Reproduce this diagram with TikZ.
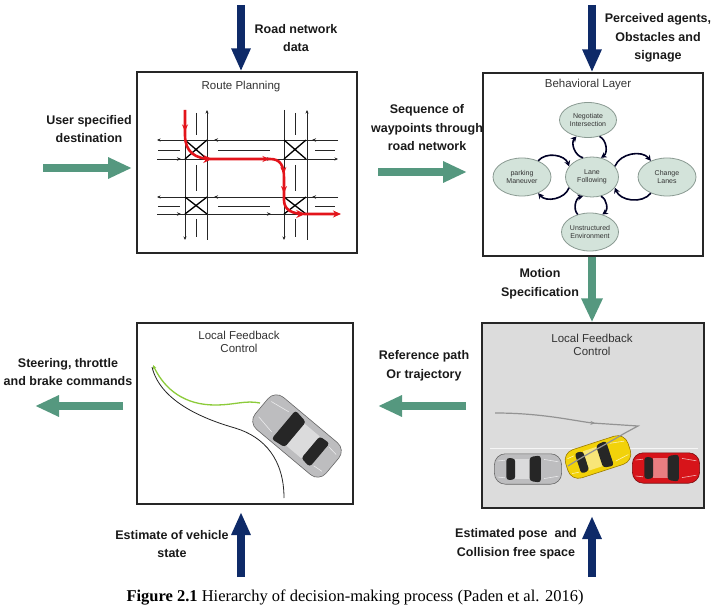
\documentclass[tikz,border=0pt]{standalone}
\usepackage{fontspec}
\setmainfont{Liberation Serif}
\setsansfont{Liberation Sans}
\usepackage{tikz}
\usetikzlibrary{arrows.meta,shapes.geometric,decorations.markings}

\definecolor{navyarrow}{HTML}{0E2A68}
\definecolor{greenarrow}{HTML}{55987F}
\definecolor{statefill}{HTML}{D3E3DA}
\definecolor{stateedge}{HTML}{8A9A92}
\definecolor{panelgray}{HTML}{DCDCDC}
\definecolor{routered}{HTML}{E3141B}
\definecolor{pathgreen}{HTML}{8CCB3A}
\definecolor{silvercar}{HTML}{BDBDBF}
\definecolor{silveredge}{HTML}{666666}
\definecolor{yellowcar}{HTML}{F2D20A}
\definecolor{yellowedge}{HTML}{9A7A00}
\definecolor{redcar}{HTML}{D7141A}
\definecolor{rededge}{HTML}{7A0A0D}

\tikzset{
  panel/.style={draw=black!85, line width=1.3pt, fill=white, inner sep=0pt},
  paneltitle/.style={font=\sffamily\fontsize{11.5}{13.5}\selectfont, text=black!80, align=center},
  lbl/.style={font=\sffamily\bfseries\fontsize{12.5}{18.5}\selectfont, text=black!90, align=center},
  navyblock/.style={draw=navyarrow, line width=8pt, -{Triangle[length=23pt,width=18pt]}},
  greenblock/.style={draw=greenarrow, line width=8.5pt, -{Triangle[length=24pt,width=20pt]}},
  state/.style={ellipse, draw=stateedge, line width=.8pt, fill=statefill, inner sep=0pt,
    font=\sffamily\fontsize{7}{8.5}\selectfont, text=black!80, align=center},
  cyc/.style={draw=black!85!blue, line width=1.6pt, -{Stealth[length=5.5pt,width=6pt]},
    bend left=60},
  road/.style={draw=black!85, line width=.7pt},
  pics/topcar/.style 2 args={code={
    \fill[#1, draw=#2, line width=.6pt, rounded corners=11pt] (-42,-19) rectangle (42,19);
    \fill[#1!55!white] (-16,-13) rectangle (2,13);
    \fill[black!85, rounded corners=3pt] (2,-15) -- (16,-17) -- (16,17) -- (2,15) -- cycle;
    \fill[black!85, rounded corners=3pt] (-27,-14) -- (-16,-13) -- (-16,13) -- (-27,14) -- cycle;
    \draw[white!70!#1, line width=.6pt] (20,-12) -- (38,-9) (20,12) -- (38,9) (-38,-10) -- (-29,-11) (-38,10) -- (-29,11);
  }}
}

\begin{document}
\begin{tikzpicture}[x=1pt, y=-1pt]
\useasboundingbox (0,0) rectangle (720,612);

% panels
\node[panel, minimum width=220pt, minimum height=181pt] (route) at (247,162.5) {};
\node[panel, minimum width=220pt, minimum height=183pt] (behav) at (593,164.5) {};
\node[panel, minimum width=216pt, minimum height=181pt] (track) at (245,413.5) {};
\node[panel, fill=panelgray, minimum width=222pt, minimum height=185pt] (motion) at (593,415.5) {};

\node[paneltitle] (routetitle) at (241,87) {Route Planning};
\node[paneltitle] (behavtitle) at (588,85) {Behavioral Layer};
\node[paneltitle] (tracktitle) at (239,342) {Local Feedback\\Control};
\node[paneltitle] (motiontitle) at (592,345) {Local Feedback\\Control};

% inputs and outputs
\coordinate (roadin) at (241,5);
\coordinate (percin) at (592,5);
\coordinate (userin) at (43,168);
\coordinate (stateest) at (241,577);
\coordinate (poseest) at (592,577);
\coordinate (cmdout) at (35,406);

\draw[navyblock] (roadin) -- (roadin |- route.north);
\draw[navyblock] (percin) -- (percin |- behav.north);
\draw[greenblock] (userin) -- (132,168);
\draw[greenblock] (378,172) -- (467,172);
\draw[greenblock] (behav.south -| percin) -- (percin |- motion.north);
\draw[greenblock] (466,406) -- (378,406);
\draw[greenblock] (123,406) -- (cmdout);
\draw[navyblock] (stateest) -- (241,512);
\draw[navyblock] (poseest) -- (592,516);

\node[lbl] (roadlbl) at (296,38) {Road network\\data};
\node[lbl] (perclbl) at (658,38) {Perceived agents,\\Obstacles and\\signage};
\node[lbl] (userlbl) at (89,129) {User specified\\destination};
\node[lbl] (waylbl) at (427,128) {Sequence of\\waypoints through\\road network};
\node[lbl] (speclbl) at (540,284) {Motion\\Specification};
\node[lbl] (reflbl) at (424,366) {Reference path\\Or trajectory};
\node[lbl] (cmdlbl) at (68,372) {Steering, throttle\\and brake commands};
\node[lbl] (statelbl) at (172,544) {Estimate of vehicle\\state};
\node[lbl] (poselbl) at (516,544) {Estimated pose\ \ and\\Collision free space};

\node[font=\fontsize{16.5}{19}\selectfont] (caption) at (355,598)
  {\textbf{Figure 2.1} Hierarchy of decision-making process (Paden et al. 2016)};

% road grid
\foreach \xa/\xb/\xc in {185/196/207, 284/295/307} {
  \draw[road, -{Stealth[length=3.5pt,width=3pt]}] (\xa,110) -- (\xa,240);
  \draw[road, -{Stealth[length=3.5pt,width=3pt]}] (\xc,240) -- (\xc,110);
  \draw[road] (\xb,113) -- (\xb,135) (\xb,165) -- (\xb,191) (\xb,219) -- (\xb,237);
}
\foreach \ya/\yb/\yc in {140/150/159, 197/206/214} {
  \draw[road, -{Stealth[length=3.5pt,width=3pt]}] (338,\ya) -- (157,\ya);
  \draw[road, -{Stealth[length=3.5pt,width=3pt]}] (157,\yc) -- (338,\yc);
  \draw[road, -{Stealth[length=4pt,width=3.5pt]}] (219,\ya) -- (214,\ya);
  \draw[road, -{Stealth[length=4pt,width=3.5pt]}] (317,\ya) -- (312,\ya);
  \draw[road, -{Stealth[length=4pt,width=3.5pt]}] (176,\yc) -- (181,\yc);
  \draw[road, -{Stealth[length=4pt,width=3.5pt]}] (266,\yc) -- (271,\yc);
  \draw[road] (158,\yb) -- (180,\yb) (218,\yb) -- (270,\yb) (315,\yb) -- (335,\yb);
}
\foreach \x in {185,284}
  \foreach \y/\yy in {140/159, 197/214}
    \draw[line width=1.3pt] (\x,\y) -- (\x+22,\yy) (\x,\yy) -- (\x+22,\y);

% planned route
\draw[routered, line width=2.6pt, -{Stealth[length=8pt,width=7pt]},
  postaction={decorate, decoration={markings,
    mark=at position 0.09 with {\arrow{Stealth[length=7pt,width=6pt]}},
    mark=at position 0.28 with {\arrow{Stealth[length=9pt,width=8pt]}},
    mark=at position 0.52 with {\arrow{Stealth[length=7pt,width=6pt]}},
    mark=at position 0.62 with {\arrow{Stealth[length=7pt,width=6pt]}},
    mark=at position 0.70 with {\arrow{Stealth[length=7pt,width=6pt]}},
    mark=at position 0.85 with {\arrow{Stealth[length=9pt,width=8pt]}}}}]
  (185,110) -- (185,135) .. controls (185,152) and (195,159) .. (212,159) -- (270,159)
  .. controls (280,159) and (284,165) .. (284,178) -- (284,200)
  .. controls (284,210) and (292,214) .. (305,214) -- (341,214);

% behaviour states
\node[state, minimum width=57pt, minimum height=35pt] (negot) at (588,120) {Negotiate\\Intersection};
\node[state, minimum width=53pt, minimum height=40pt] (lanef) at (592,177) {Lane\\Following};
\node[state, minimum width=58pt, minimum height=38pt] (parking) at (522,177) {parking\\Maneuver};
\node[state, minimum width=58pt, minimum height=38pt] (change) at (667,177) {Change\\Lanes};
\node[state, minimum width=57pt, minimum height=38pt] (unstr) at (590,232) {Unstructured\\Environment};

\draw[cyc] (lanef.115) to (negot.235);
\draw[cyc] (negot.305) to (lanef.65);
\draw[cyc] (parking.45) to (lanef.155);
\draw[cyc] (lanef.205) to (parking.315);
\draw[cyc] (lanef.25) to (change.135);
\draw[cyc] (change.225) to (lanef.335);
\draw[cyc] (unstr.125) to (lanef.245);
\draw[cyc] (lanef.295) to (unstr.55);

% tracking of the reference path
\draw[black!85, line width=.8pt] (152,367) .. controls (160,400) and (200,418) .. (235,428)
  .. controls (265,437) and (284,460) .. (284,498);
\draw[pathgreen, line width=1.3pt, {Stealth[length=4pt,width=3.5pt]}-] (153,365)
  .. controls (165,390) and (185,405) .. (215,405) .. controls (235,405) and (245,400) .. (260,403);
\pic[rotate=140, scale=1.1] at (297,436) {topcar={silvercar}{silveredge}};

% parking manoeuvre
\draw[white!75!panelgray, line width=1pt] (490,448) -- (698,448);
\pic[scale=.8] at (528,469) {topcar={silvercar}{silveredge}};
\pic[scale=.8] at (666,468) {topcar={redcar}{rededge}};
\pic[rotate=18, scale=.78] at (598,457) {topcar={yellowcar}{yellowedge}};
\draw[gray!85, line width=1.2pt,
  postaction={decorate, decoration={markings,
    mark=at position 0.45 with {\arrow{Stealth[length=5pt,width=4pt]}}}}]
  (495,413) .. controls (540,413) and (570,420) .. (592,423) -- (638,426) -- (625,433)
  .. controls (605,445) and (585,455) .. (568,466);
\end{tikzpicture}
\end{document}
